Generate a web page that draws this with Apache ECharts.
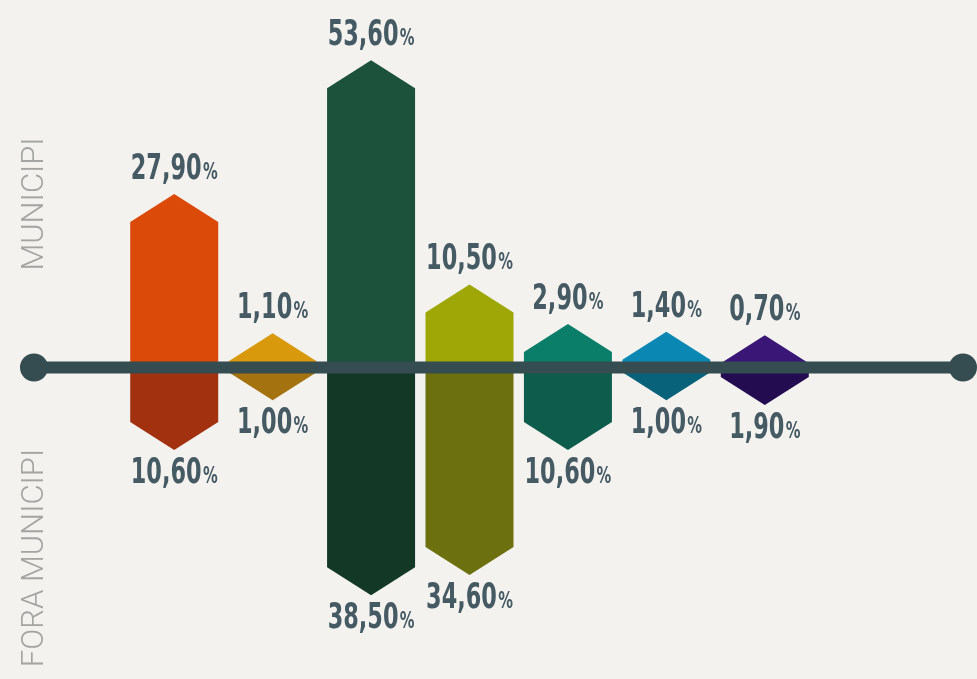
<!DOCTYPE html>
<html><head><meta charset="utf-8">
<script src="https://cdn.jsdelivr.net/npm/echarts@6/dist/echarts.min.js"></script>
<style>html,body{margin:0;padding:0;background:#f3f2ef;}#c{width:977px;height:679px;}</style>
</head><body><div id="c"></div>
<script>
const categories = ['A','B','C','D','E','F','G'];
const municipi = [27.9, 1.1, 53.6, 10.5, 2.9, 1.4, 0.7];
const foraMunicipi = [10.6, 1.0, 38.5, 34.6, 10.6, 1.0, 1.9];
const sideLabels = ['MUNICIPI', 'FORA MUNICIPI'];

const upperColors = ['#dc4a0a','#d8990d','#1c513c','#9ea706','#0a7e68','#0a88b3','#3a1777'];
const lowerColors = ['#a2310f','#a4720e','#143826','#6d700f','#0e5c4c','#08637a','#230c50'];
const textColor = '#465a64';
const CAP = 28;

function fmt(v){ return Math.abs(v).toFixed(2).replace('.', ','); }

const labelFont = '"DejaVu Sans", sans-serif';

function makeRender(colors, dir){
  return function(params, api){
    const i = api.value(0);
    const v = api.value(1);
    const base = api.coord([i, 0]);
    const end = api.coord([i, v]);
    const w = api.size([1, 0])[0] * 0.894;
    const cx = base[0];
    const l = cx - w/2, r = cx + w/2;
    const tipY = end[1] - dir * CAP;
    const labelY = tipY - dir * 24;
    return {
      type: 'group',
      children: [
        { type: 'polygon',
          shape: { points: [[l, base[1]], [l, end[1]], [cx, tipY], [r, end[1]], [r, base[1]]] },
          style: { fill: colors[params.dataIndex] } },
        { type: 'text', x: cx, y: labelY, scaleX: 0.64, scaleY: 1,
          style: {
            text: '{n|' + fmt(v) + '}{p|%}',
            align: 'center', verticalAlign: 'middle',
            rich: {
              n: { fontFamily: labelFont, fontWeight: 'bold', fontSize: 35, fill: textColor, verticalAlign: 'bottom' },
              p: { fontFamily: labelFont, fontWeight: 'bold', fontSize: 23, fill: textColor, verticalAlign: 'bottom', padding: [0,0,3,2] }
            }
          } }
      ]
    };
  };
}

const chart = echarts.init(document.getElementById('c'));
chart.setOption({
  backgroundColor: '#f3f2ef',
  animation: false,
  grid: { left: 125, right: 163, top: 3, bottom: 0 },
  xAxis: { type: 'category', data: categories, show: false },
  yAxis: { type: 'value', min: -60, max: 70, show: false },
  series: [
    { name: 'Municipi', type: 'custom', renderItem: makeRender(upperColors, 1),
      data: municipi.map((v, i) => [i, v]) },
    { name: 'Fora municipi', type: 'custom', renderItem: makeRender(lowerColors, -1),
      data: foraMunicipi.map((v, i) => [i, -v]) }
  ]
});

const y0 = chart.convertToPixel({ yAxisIndex: 0 }, 0) + 0.5;
const lineColor = '#354d50';
const sideFont = { fontFamily: 'Roboto, "Liberation Sans", sans-serif', fontWeight: 300, fontSize: 31, fill: '#a4a4a2' };
chart.setOption({
  graphic: [
    { type: 'line', z: 100, shape: { x1: 34, y1: y0, x2: 963, y2: y0 }, style: { stroke: lineColor, lineWidth: 12 } },
    { type: 'circle', z: 100, shape: { cx: 34, cy: y0, r: 14 }, style: { fill: lineColor } },
    { type: 'circle', z: 100, shape: { cx: 963, cy: y0, r: 14 }, style: { fill: lineColor } },
    { type: 'text', z: 100, x: 35, y: 204, rotation: Math.PI/2,
      style: Object.assign({ text: sideLabels[0], align: 'center', verticalAlign: 'middle' }, sideFont) },
    { type: 'text', z: 100, x: 35, y: 558, rotation: Math.PI/2,
      style: Object.assign({ text: sideLabels[1], align: 'center', verticalAlign: 'middle' }, sideFont) }
  ]
});
</script></body></html>
